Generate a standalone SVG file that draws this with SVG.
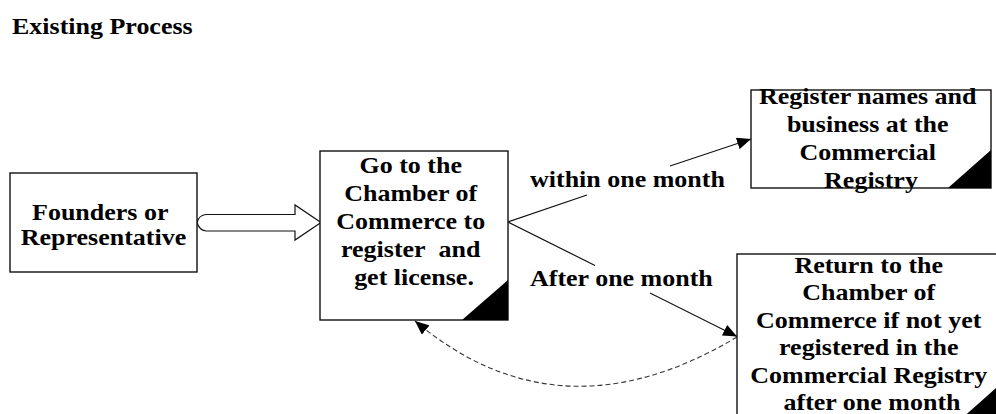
<svg xmlns="http://www.w3.org/2000/svg" width="996" height="414" viewBox="0 0 996 414">
  <defs>
    <style>
      .box { fill: #fff; stroke: #111; stroke-width: 1.4; }
      .corner { fill: #000; stroke: none; }
      .t { font-family: "Liberation Serif", "Times New Roman", serif; font-weight: bold; font-size: 23px; fill: #000; }
      .c { text-anchor: middle; }
      .link { fill: none; stroke: #111; stroke-width: 1.2; }
      .dash { fill: none; stroke: #333; stroke-width: 1.1; stroke-dasharray: 5 3; }
      .block { fill: #fff; stroke: #111; stroke-width: 1.2; stroke-linejoin: miter; }
    </style>
    <marker id="head" viewBox="0 0 14 12" refX="14" refY="6" markerWidth="14" markerHeight="12" markerUnits="userSpaceOnUse" orient="auto">
      <path d="M0,0 L14,6 L0,12 Z" fill="#000"/>
    </marker>
  </defs>

  <rect width="996" height="414" fill="#fff"/>

  <!-- heading -->
  <text class="t" transform="matrix(1.13 0 0 1 12 34)">Existing Process</text>

  <!-- connectors -->
  <g id="connectors">
    <!-- hollow block arrow between the first two steps -->
    <path class="block" d="M197,222.5 Q199,215 206,214.5 L295,214.5 L295,205 L321,222.5 L295,240 L295,231 L206,231 Q199,230 197,222.5 Z"/>
    <!-- branch: within one month -->
    <line class="link" x1="508" y1="222" x2="587" y2="195"/>
    <line class="link" x1="670" y1="166" x2="751" y2="139" marker-end="url(#head)"/>
    <text class="t" transform="matrix(1.13 0 0 1 530 187)">within one month</text>
    <!-- branch: after one month -->
    <line class="link" x1="508" y1="222" x2="595" y2="265.5"/>
    <line class="link" x1="650" y1="293" x2="737" y2="336.5" marker-end="url(#head)"/>
    <text class="t" transform="matrix(1.13 0 0 1 530 286)">After one month</text>
    <!-- dashed loop back to the Chamber of Commerce -->
    <path class="dash" d="M737,337 Q560,443 415,321" marker-end="url(#head)"/>
  </g>

  <!-- step nodes -->
  <g id="founders">
    <rect class="box" x="10" y="173" width="187" height="99"/>
    <text class="t c" transform="matrix(1.13 0 0 1 103.5 220)">
      <tspan x="0" y="0">Founders or</tspan>
      <tspan x="0" y="25">Representative</tspan>
    </text>
  </g>

  <g id="chamber">
    <rect class="box" x="320" y="151" width="188" height="169"/>
    <polygon class="corner" points="462,320 508,320 508,280"/>
    <text class="t c" transform="matrix(1.13 0 0 1 414 173)">
      <tspan x="0" y="0">Go to the</tspan>
      <tspan x="0" y="28">Chamber of</tspan>
      <tspan x="0" y="56">Commerce to</tspan>
      <tspan x="0" y="84">register&#160; and</tspan>
      <tspan x="0" y="112">get license.</tspan>
    </text>
  </g>

  <g id="registry">
    <rect class="box" x="751" y="90" width="240" height="98"/>
    <polygon class="corner" points="948,188 991,188 991,150"/>
    <text class="t c" transform="matrix(1.13 0 0 1 871 104)">
      <tspan x="0" y="0">Register names and</tspan>
      <tspan x="0" y="28">business at the</tspan>
      <tspan x="0" y="56">Commercial</tspan>
      <tspan x="0" y="84">Registry</tspan>
    </text>
  </g>

  <g id="return">
    <rect class="box" x="737" y="254" width="280" height="200"/>
    <polygon class="corner" points="960,420 1005,420 1005,380"/>
    <text class="t c" transform="matrix(1.13 0 0 1 872 273)">
      <tspan x="0" y="0">Return to the</tspan>
      <tspan x="0" y="27.5">Chamber of</tspan>
      <tspan x="0" y="55">Commerce if not yet</tspan>
      <tspan x="0" y="82.5">registered in the</tspan>
      <tspan x="0" y="110">Commercial Registry</tspan>
      <tspan x="0" y="137.5">after one month</tspan>
    </text>
  </g>
</svg>
